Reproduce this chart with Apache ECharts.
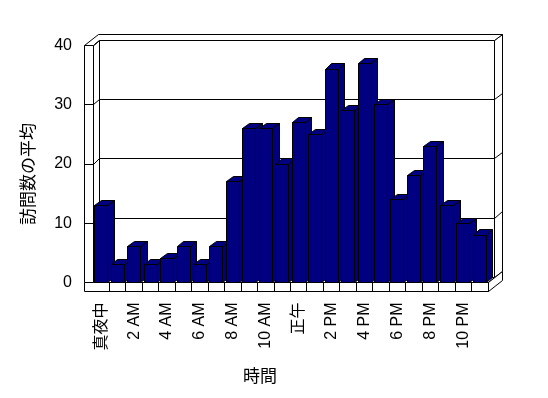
<!DOCTYPE html>
<html><head><meta charset="utf-8">
<script src="https://cdn.jsdelivr.net/npm/echarts@6/dist/echarts.min.js"></script>
<style>html,body{margin:0;padding:0;background:#fff}#c{width:548px;height:398px}</style>
</head><body><div id="c"></div>
<script>
const hours = ['真夜中','1 AM','2 AM','3 AM','4 AM','5 AM','6 AM','7 AM','8 AM','9 AM','10 AM','11 AM','正午','1 PM','2 PM','3 PM','4 PM','5 PM','6 PM','7 PM','8 PM','9 PM','10 PM','11 PM'];
const visits = [13,3,6,3,4,6,3,6,17,26,26,20,27,25,36,29,37,30,14,18,23,13,10,8];
const yTicks = [0,10,20,30,40];
const yTitle = '訪問数の平均';
const xTitle = '時間';

const FONT = "'Liberation Sans','Noto Sans CJK JP',sans-serif";
const D = [6.7, -5.2];
const T = 1.2;
const WALL = 9, FLOOR = 9;
const INK = '#000', FILL = '#fff', BAR = '#000080';
const s = v => Math.round(v - 0.5) + 0.5;
const P = pts => pts.map(p => [s(p[0]), s(p[1])]);
function poly(points, fill) { return {type:'polygon', shape:{points:P(points)}, style:{fill:fill, stroke:INK, lineWidth:1}}; }
function line(x1,y1,x2,y2){ return {type:'line', shape:{x1:s(x1),y1:s(y1),x2:s(x2),y2:s(y2)}, style:{stroke:INK, lineWidth:1}}; }

function renderFrame(params, api){
  const bw = api.size([1,0])[0];
  const c0 = api.coord([0,0]);
  const xL = c0[0]-bw/2, xR = xL + hours.length*bw;
  const y0 = c0[1];
  const yT = api.coord([0, yTicks[yTicks.length-1]])[1];
  const dx=D[0], dy=D[1], bx=(1+T)*dx, by=(1+T)*dy;
  const ch = [];
  ch.push(poly([[xL+dx,yT+dy],[xR+dx,yT+dy],[xR+dx,y0+dy],[xL+dx,y0+dy]], FILL));
  ch.push(poly([[xL,yT],[xL+dx,yT+dy],[xL+dx,y0+dy],[xL,y0]], FILL));
  ch.push(poly([[xR+dx,yT+dy],[xR+bx,yT+by],[xR+bx,y0+by],[xR+dx,y0+dy]], FILL));
  ch.push(poly([[xL,y0],[xR,y0],[xR+dx,y0+dy],[xL+dx,y0+dy]], FILL));
  yTicks.slice(1,-1).forEach(v=>{ const y = api.coord([0,v])[1];
    ch.push(line(xL,y,xL+dx,y+dy)); ch.push(line(xL+dx,y+dy,xR+dx,y+dy)); ch.push(line(xR+dx,y+dy,xR+bx,y+by)); });
  ch.push(poly([[xR,y0],[xR+bx,y0+by],[xR+bx,y0+FLOOR+by],[xR,y0+FLOOR]], FILL));
  ch.push(poly([[xL-WALL,y0],[xR,y0],[xR,y0+FLOOR],[xL-WALL,y0+FLOOR]], FILL));
  for (let i=1;i<=hours.length;i++){ const x=xL+i*bw; ch.push(line(x,y0,x,y0+FLOOR)); }
  ch.push(poly([[xL-WALL,yT],[xL,yT],[xL+dx,yT+dy],[xR+dx,yT+dy],[xR+bx,yT+by],[xL-WALL+bx,yT+by]], FILL));
  ch.push(line(xL,yT,xL+dx,yT+dy));
  ch.push(poly([[xL-WALL,yT],[xL,yT],[xL,y0],[xL-WALL,y0]], FILL));
  yTicks.slice(1,-1).forEach(v=>{ const y=api.coord([0,v])[1]; ch.push(line(xL-WALL,y,xL,y)); });
  return {type:'group', children: ch};
}

function renderBar(params, api){
  const idx = api.value(0), v = api.value(1);
  const top = api.coord([idx, v]), base = api.coord([idx, 0]);
  const bw = api.size([1,0])[0];
  const w = bw*0.79;
  const x1 = top[0]-w/2, x2 = top[0]+w/2, yt = top[1], yb = base[1];
  const dx=D[0], dy=D[1];
  return {type:'group', children:[
    poly([[x2,yt],[x2+dx,yt+dy],[x2+dx,yb+dy],[x2,yb]], BAR),
    poly([[x1,yt],[x1+dx,yt+dy],[x2+dx,yt+dy],[x2,yt]], BAR),
    poly([[x1,yt],[x2,yt],[x2,yb],[x1,yb]], BAR)
  ]};
}

const chart = echarts.init(document.getElementById('c'), null, {renderer:'canvas'});
chart.setOption({
  backgroundColor:'#fff',
  animation:false,
  grid:{left:93, top:45.5, width:395, height:237},
  xAxis:{type:'category', data:hours, boundaryGap:true,
    axisLine:{show:false}, axisTick:{show:false}, splitLine:{show:false},
    axisLabel:{interval:1, rotate:90, margin:20, fontSize:16, color:'#000', fontFamily:FONT}},
  yAxis:{type:'value', min:0, max:40, interval:10,
    axisLine:{show:false}, axisTick:{show:false}, splitLine:{show:false},
    axisLabel:{margin:21, fontSize:16, color:'#000', fontFamily:FONT}},
  graphic:[
    {type:'text', x:29, y:174, rotation:Math.PI/2, style:{text:yTitle, fontSize:17, fontFamily:FONT, fill:'#000', align:'center', verticalAlign:'middle'}},
    {type:'text', x:260, y:377, style:{text:xTitle, fontSize:17, fontFamily:FONT, fill:'#000', align:'center', verticalAlign:'middle'}}
  ],
  series:[
    {type:'custom', z:1, renderItem:renderFrame, data:[[0,0]], encode:{x:0,y:1}, silent:true, clip:false},
    {type:'custom', z:2, renderItem:renderBar, data:visits.map((v,i)=>[i,v]), encode:{x:0,y:1}, clip:false}
  ]
});
</script></body></html>
